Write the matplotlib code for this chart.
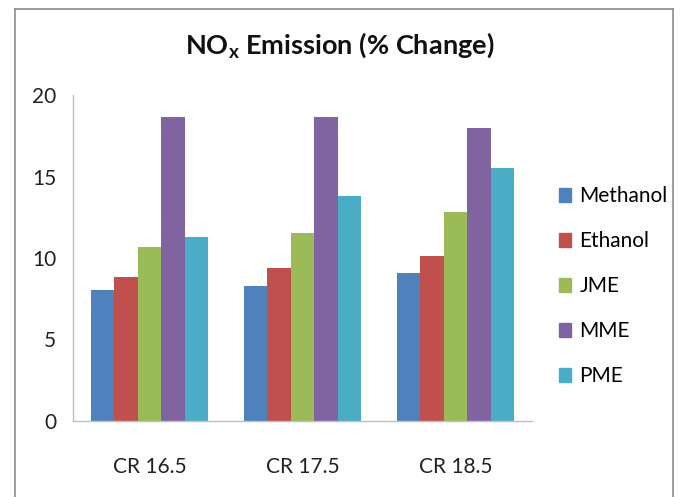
import matplotlib.pyplot as plt
import numpy as np
from matplotlib.lines import Line2D

plt.rcParams['font.family'] = ['Lato', 'DejaVu Sans']
plt.rcParams['mathtext.fontset'] = 'custom'
plt.rcParams['mathtext.rm'] = 'Lato'
plt.rcParams['mathtext.bf'] = 'Lato:bold'

# %% data
categories = ['CR 16.5', 'CR 17.5', 'CR 18.5']
series = ['Methanol', 'Ethanol', 'JME', 'MME', 'PME']
methanol = [8.0, 8.3, 9.05]
ethanol = [8.8, 9.4, 10.1]
jme = [10.7, 11.55, 12.8]
mme = [18.65, 18.65, 18.0]
pme = [11.3, 13.8, 15.55]
values = [methanol, ethanol, jme, mme, pme]
colors = ['#4F81BD', '#C0504D', '#9BBB59', '#8064A2', '#4BACC6']

# %% plot
fig = plt.figure(figsize=(6.8, 4.97), dpi=100)
ax = fig.add_axes([0.1074, 0.1535, 0.675, 0.655])

x = np.arange(len(categories))
w = 0.153
for i, (name, vals) in enumerate(zip(series, values)):
    ax.bar(x + (i - 2) * w, vals, w, color=colors[i], label=name)

ax.set_xlim(-0.5, 2.5)
ax.set_ylim(0, 20)
ax.set_yticks([0, 5, 10, 15, 20])
ax.set_xticks(x)
ax.set_xticklabels(categories)
for s in ['top', 'right']:
    ax.spines[s].set_visible(False)
for s in ['left', 'bottom']:
    ax.spines[s].set_color('#BFBFBF')
    ax.spines[s].set_linewidth(1.0)
ax.tick_params(axis='both', length=0, labelsize=15, colors='#222222')
ax.tick_params(axis='y', pad=12)
ax.tick_params(axis='x', pad=26)

fig.text(0.5, 0.909, r'NO$_\mathbf{x}$ Emission (% Change)', ha='center', va='center',
         fontsize=19.5, fontweight='bold', color='#111111')

handles = [plt.Rectangle((0, 0), 1, 1, color=c) for c in colors]
fig.legend(handles, series, loc='center left', bbox_to_anchor=(0.794, 0.424),
           frameon=False, fontsize=15, handlelength=0.6, handleheight=0.6,
           handletextpad=0.4, labelspacing=1.2)

# chart frame
fc = '#8C8C8C'
fig.add_artist(Line2D([15 / 680, 15 / 680], [0, 1 - 9 / 497], color=fc, lw=1.2, transform=fig.transFigure))
fig.add_artist(Line2D([15 / 680, 673 / 680], [1 - 9 / 497, 1 - 9 / 497], color=fc, lw=1.2, transform=fig.transFigure))
fig.add_artist(Line2D([673 / 680, 673 / 680], [0, 1 - 9 / 497], color=fc, lw=1.2, transform=fig.transFigure))

fig.savefig('out.png', dpi=100)
